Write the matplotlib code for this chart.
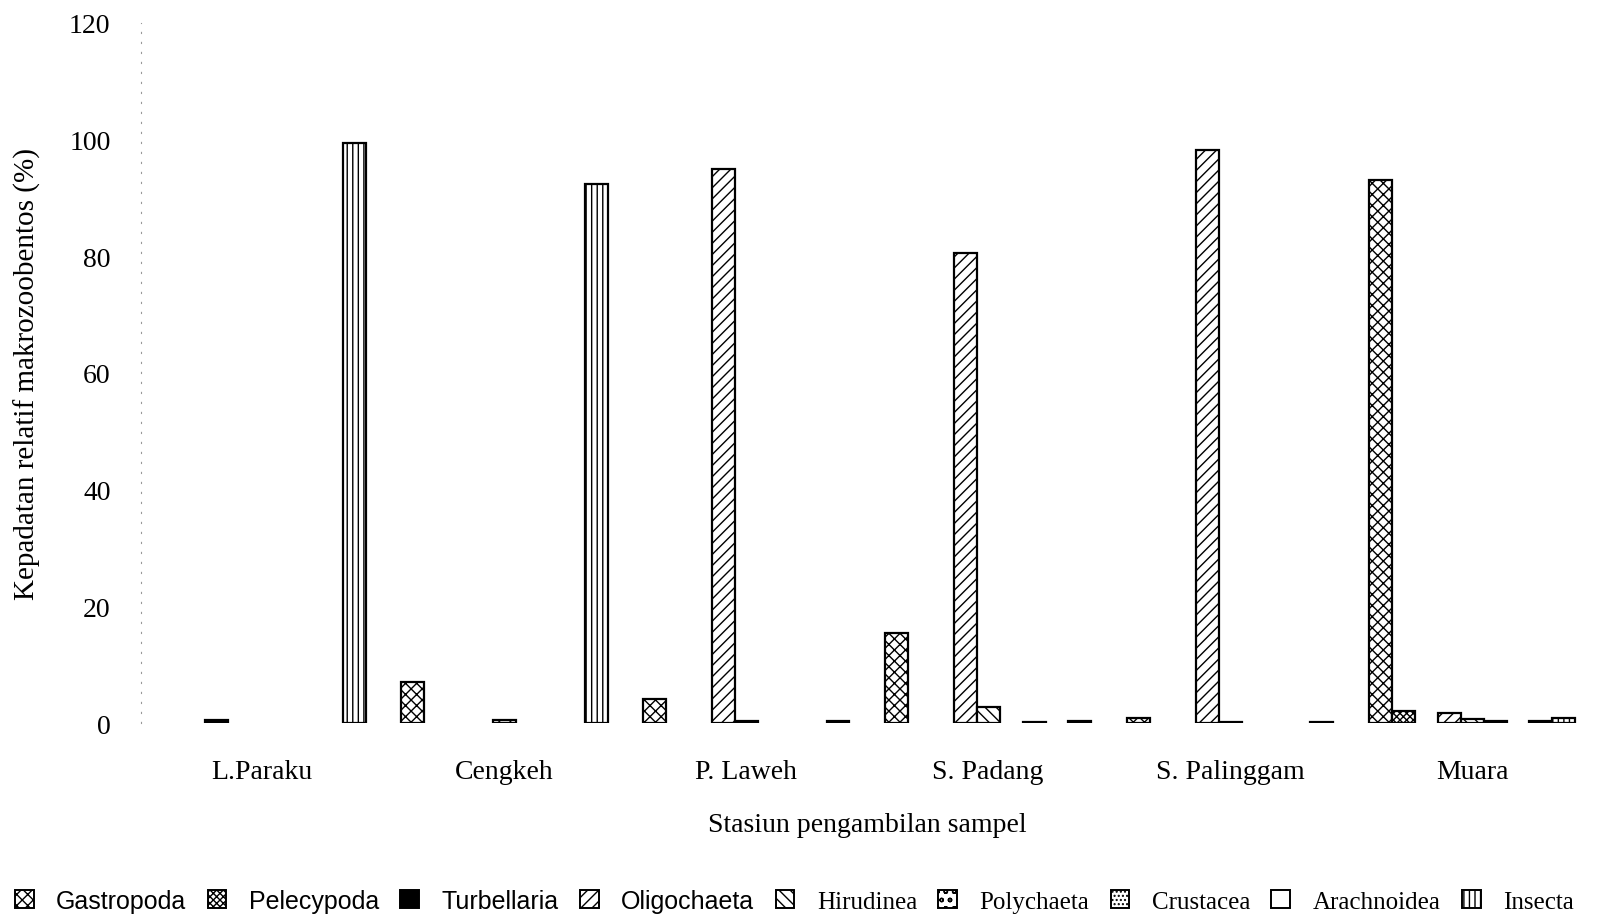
import matplotlib
matplotlib.use("Agg")
import matplotlib.pyplot as plt
from matplotlib.patches import Patch
import numpy as np

plt.rcParams['font.family'] = ['Liberation Serif', 'DejaVu Serif']
plt.rcParams['hatch.linewidth'] = 1.0

# stations (x axis) and relative density (%) per taxon
stations = ['L.Paraku', 'Cengkeh', 'P. Laweh', 'S. Padang', 'S. Palinggam', 'Muara']
gastropoda = [0, 7.1, 4.2, 15.5, 0.8, 93.0]
pelecypoda = [0, 0, 0, 0, 0, 2.0]
turbellaria = [0.5, 0, 0, 0, 0, 0]
oligochaeta = [0, 0, 95.0, 80.5, 98.3, 1.8]
hirudinea = [0, 0.5, 0.4, 2.8, 0.1, 0.7]
polychaeta = [0, 0, 0, 0, 0, 0.4]
crustacea = [0, 0, 0, 0.2, 0, 0]
arachnoidea = [0, 0, 0, 0, 0, 0.3]
insecta = [99.5, 92.4, 0.3, 0.3, 0.2, 0.8]

taxa = ['Gastropoda', 'Pelecypoda', 'Turbellaria', 'Oligochaeta', 'Hirudinea',
        'Polychaeta', 'Crustacea', 'Arachnoidea', 'Insecta']
values = [gastropoda, pelecypoda, turbellaria, oligochaeta, hirudinea,
          polychaeta, crustacea, arachnoidea, insecta]
# (facecolor, hatch) per taxon
styles = [('white', 'xxx'), ('white', 'xxxxx'), ('black', ''), ('white', '///'),
          ('white', '\\\\\\'), ('white', 'oo'), ('white', '....'),
          ('white', ''), ('white', '|||')]

fig = plt.figure(figsize=(16.14, 9.2), dpi=100)
ax = fig.add_axes([0.0874, 0.213, 0.8996, 0.761])

x = np.arange(len(stations))
w = 0.095
n = len(taxa)
for i, (vals, (fc, h)) in enumerate(zip(values, styles)):
    bars = ax.bar(x + (i - (n - 1) / 2) * w, vals, w, color=fc, hatch=h,
                  edgecolor='black', linewidth=1.6)
    for b, v in zip(bars, vals):
        if v == 0:
            b.set_visible(False)

ax.set_xlim(-0.5, len(stations) - 0.5)
ax.set_ylim(0, 120)
ax.set_yticks(range(0, 121, 20))
ax.set_xticks(x)
ax.set_xticklabels(stations)
ax.tick_params(axis='both', length=0, labelsize=20)
ax.tick_params(axis='x', pad=26)
ax.tick_params(axis='y', pad=22)
for s in ['top', 'right', 'bottom']:
    ax.spines[s].set_visible(False)
ax.spines['left'].set_linestyle((0, (1, 8)))
ax.spines['left'].set_color('#999999')
ax.spines['left'].set_linewidth(0.8)

ax.set_xlabel('Stasiun pengambilan sampel', fontsize=20, labelpad=20)
ax.set_ylabel('Kepadatan relatif makrozoobentos (%)', fontsize=21, labelpad=20)

handles = [Patch(facecolor=fc, hatch=h, edgecolor='black', linewidth=1.4)
           for fc, h in styles]
leg = fig.legend(handles, taxa, loc='center left', bbox_to_anchor=(0.003, 0.02),
                 ncol=9, frameon=False, handlelength=0.75, handleheight=0.75,
                 handletextpad=0.9, columnspacing=0.85, borderaxespad=0,
                 fontsize=18)
for t in leg.get_texts()[:4]:
    t.set_family(['Liberation Sans Narrow', 'Liberation Sans'])

fig.savefig('out.png', dpi=100)
